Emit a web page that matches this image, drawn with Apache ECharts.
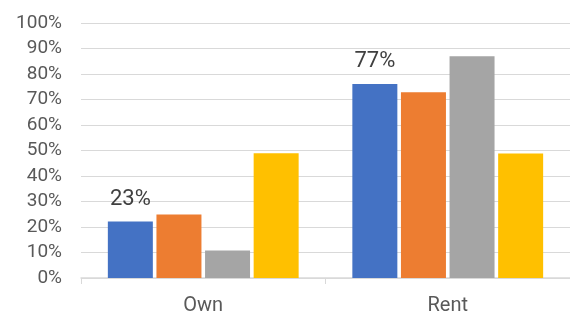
<!DOCTYPE html>
<html>
<head>
<meta charset="utf-8">
<script src="https://cdn.jsdelivr.net/npm/echarts@6/dist/echarts.min.js"></script>
<style>
  html, body { margin: 0; padding: 0; background: #fff; }
  #chart { width: 570px; height: 316px; }
</style>
</head>
<body>
<div id="chart"></div>
<script>
// Own vs Rent shares, four series
const categories = ["Own", "Rent"];
const blueValues = [22.2, 76.1];
const orangeValues = [24.9, 72.8];
const grayValues = [10.8, 87.0];
const yellowValues = [48.9, 48.8];
const blueLabels = ["23%", "77%"];
const yTicks = [0, 10, 20, 30, 40, 50, 60, 70, 80, 90, 100];

function barSeries(name, values, color) {
  return {
    name: name,
    type: "bar",
    data: values,
    barWidth: 45,
    barGap: "8%",
    itemStyle: { color: color },
  };
}

const chartDom = document.getElementById("chart");
const myChart = echarts.init(chartDom, null, { renderer: "canvas" });

const blue = barSeries("Blue", blueValues, "#4472C4");
blue.label = {
  show: true,
  position: "top",
  distance: 11,
  fontFamily: "Roboto",
  fontSize: 22,
  color: "#404040",
  formatter: function (p) {
    return blueLabels[p.dataIndex];
  },
};

const option = {
  animation: false,
  grid: { left: 81, right: 0, top: 23, bottom: 38 },
  xAxis: {
    type: "category",
    data: categories,
    axisLine: { lineStyle: { color: "#d9d9d9", width: 1.5 } },
    axisTick: { show: true, length: 6, lineStyle: { color: "#d9d9d9" } },
    axisLabel: {
      fontFamily: "Roboto",
      fontSize: 20,
      color: "#595959",
      margin: 18,
    },
  },
  yAxis: {
    type: "value",
    min: yTicks[0],
    max: yTicks[yTicks.length - 1],
    interval: 10,
    axisLine: { show: false },
    axisTick: { show: false },
    splitLine: { lineStyle: { color: "#d9d9d9", width: 1 } },
    axisLabel: {
      fontFamily: "Roboto",
      fontSize: 19,
      color: "#595959",
      margin: 19,
      formatter: "{value}%",
    },
  },
  series: [
    blue,
    barSeries("Orange", orangeValues, "#ED7D31"),
    barSeries("Gray", grayValues, "#A5A5A5"),
    barSeries("Yellow", yellowValues, "#FFC000"),
  ],
};

myChart.setOption(option);
</script>
</body>
</html>
